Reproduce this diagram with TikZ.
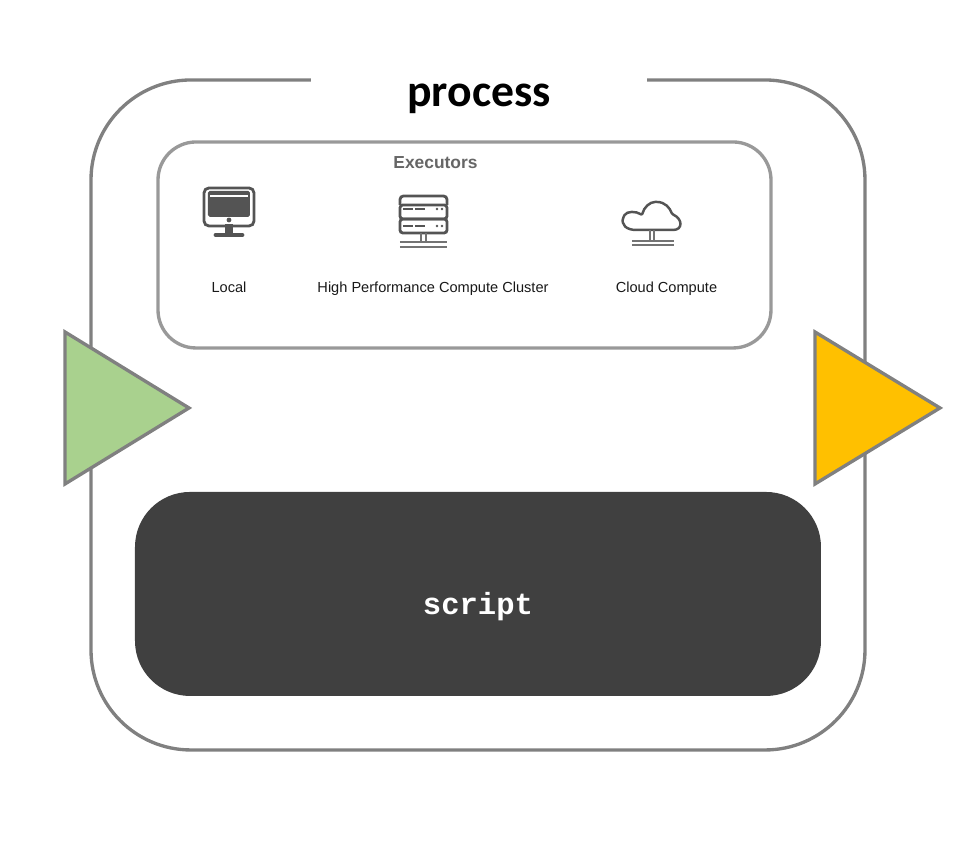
\documentclass[tikz,border=0pt]{standalone}
\usepackage{fontspec}
\setmainfont{Liberation Sans}
\newfontfamily\titlefont{Carlito}
\newfontfamily\codefont{Liberation Mono}
\definecolor{inputgreen}{HTML}{A9D18E}
\definecolor{outputorange}{HTML}{FFC000}
\tikzset{
	frameline/.style={draw=black!50,line width=0.95pt},
	iconline/.style={draw=black!67,line width=0.8pt},
	iconbar/.style={draw=black!55,line width=0.55pt},
	execlabel/.style={inner sep=0pt,anchor=base,text=black!90,font=\fontsize{4.15}{5}\selectfont},
	arrowhead/.style={draw=black!50,line width=0.95pt,line join=miter}
}
\begin{document}
\begin{tikzpicture}
	\useasboundingbox (0,0) rectangle (9.8,8.5);
	%MAIN SHAPES
	\draw[frameline,rounded corners=1cm] (0.91,1.00) rectangle (8.65,7.70);
	\node[fill=white,minimum width=3.36cm,minimum height=0.55cm,inner sep=0pt,font=\titlefont\bfseries\fontsize{13}{15}\selectfont] (process) at (4.79,7.51) {process};
	\draw[draw=black!40,line width=0.95pt,rounded corners=0.38cm] (1.58,5.02) rectangle (7.71,7.08);
	\fill[black!75,rounded corners=0.55cm] (1.35,1.54) rectangle (8.21,3.58);
	\node[text=white,inner sep=0pt,font=\codefont\bfseries\fontsize{8.7}{10}\selectfont] (script) at (4.78,2.43) {script};
	%
	\draw[arrowhead,fill=inputgreen] (0.65,5.18)--(1.89,4.42)--(0.65,3.66)--cycle;
	\draw[arrowhead,fill=outputorange] (8.15,5.18)--(9.40,4.42)--(8.15,3.66)--cycle;

	%LABELS
	\node[inner sep=0pt,text=black!60,font=\bfseries\fontsize{4.95}{6}\selectfont] (executors) at (4.355,6.87) {Executors};
	\node[execlabel] (local) at (2.29,5.57) {Local};
	\node[execlabel] (cluster) at (4.33,5.57) {High Performance Compute Cluster};
	\node[execlabel] (cloud) at (6.665,5.57) {Cloud Compute};

	%LOCAL ICON
	\draw[iconline,rounded corners=1.4pt] (2.04,6.62) rectangle (2.54,6.24);
	\fill[black!67,rounded corners=0.5pt] (2.08,6.59) rectangle (2.50,6.33);
	\fill[white] (2.10,6.55) rectangle (2.48,6.53);
	\fill[black!67] (2.29,6.30) circle (0.024);
	\fill[black!67] (2.25,6.26) rectangle (2.33,6.17);
	\draw[black!67,line width=1.4pt,line cap=round] (2.16,6.15)--(2.42,6.15);

	%SERVER ICON
	\draw[iconline,rounded corners=1pt] (4.00,6.45)--(4.00,6.54)--(4.47,6.54)--(4.47,6.45);
	\draw[iconline,rounded corners=0.8pt] (4.00,6.45) rectangle (4.47,6.31);
	\draw[iconline,rounded corners=0.8pt] (4.00,6.31) rectangle (4.47,6.17);
	\foreach \rowy in {6.41,6.24} {
		\draw[iconline] (4.03,\rowy)--(4.13,\rowy);
		\draw[iconline] (4.15,\rowy)--(4.25,\rowy);
		\fill[black!67] (4.37,\rowy) circle (0.014);
		\fill[black!67] (4.42,\rowy) circle (0.014);
	}
	\draw[iconbar] (4.21,6.17)--(4.21,6.08);
	\draw[iconbar] (4.26,6.17)--(4.26,6.08);
	\draw[iconbar] (4.00,6.08)--(4.47,6.08);
	\draw[iconbar] (4.00,6.03)--(4.47,6.03);

	%CLOUD ICON
	\draw[iconline,line width=0.7pt,rounded corners=0.3pt] (6.37,6.20) .. controls (6.27,6.20) and (6.20,6.25) .. (6.24,6.34) .. controls (6.27,6.39) and (6.36,6.39) .. (6.42,6.35) .. controls (6.44,6.43) and (6.50,6.48) .. (6.56,6.48) .. controls (6.65,6.48) and (6.70,6.42) .. (6.72,6.36) .. controls (6.83,6.31) and (6.83,6.20) .. (6.72,6.20) -- cycle;
	\draw[iconbar] (6.50,6.20)--(6.50,6.09);
	\draw[iconbar] (6.54,6.20)--(6.54,6.09);
	\draw[iconbar] (6.32,6.09)--(6.74,6.09);
	\draw[iconbar] (6.32,6.05)--(6.74,6.05);
\end{tikzpicture}
\end{document}
